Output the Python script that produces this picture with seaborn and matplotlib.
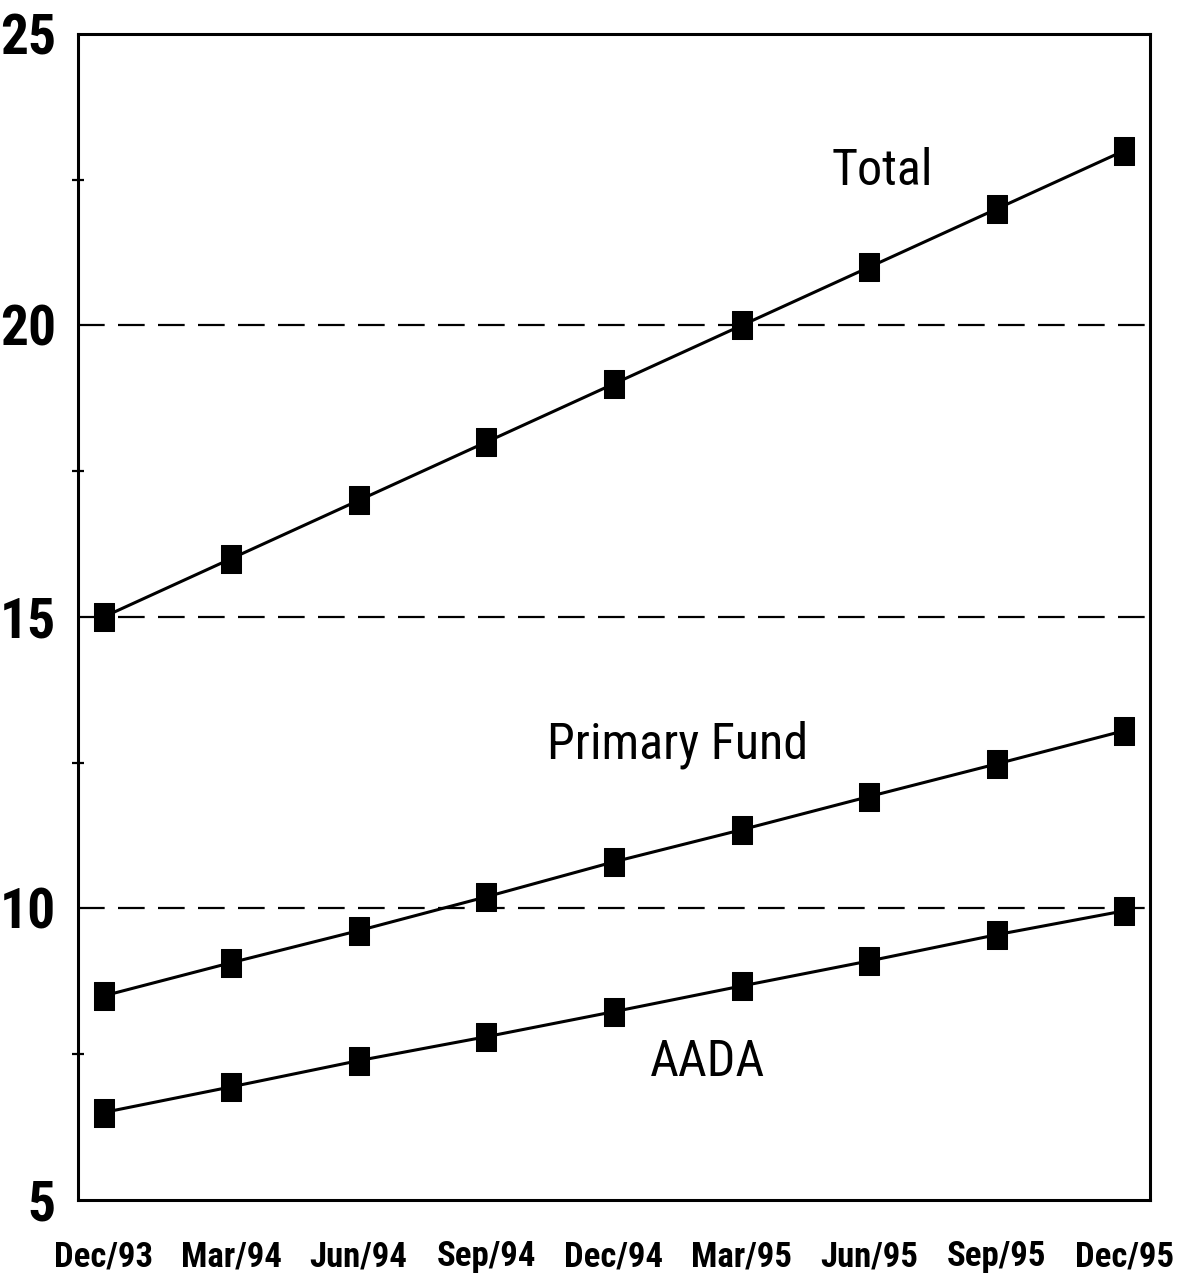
import pandas as pd
import matplotlib.pyplot as plt
import seaborn as sns
from matplotlib.ticker import MultipleLocator

quarters = ['Dec/93', 'Mar/94', 'Jun/94', 'Sep/94', 'Dec/94', 'Mar/95', 'Jun/95', 'Sep/95', 'Dec/95']
total = [15.0, 16.0, 17.0, 18.0, 19.0, 20.0, 21.0, 22.0, 23.0]
primary_fund = [8.5, 9.07, 9.62, 10.2, 10.8, 11.35, 11.92, 12.48, 13.05]
aada = [6.5, 6.94, 7.39, 7.8, 8.23, 8.67, 9.1, 9.55, 9.96]

sns.set_style('white')
plt.rcParams['font.family'] = ['Liberation Sans Narrow', 'DejaVu Sans Condensed',
                               'Roboto Condensed', 'DejaVu Sans']
plt.rcParams['text.color'] = 'black'
plt.rcParams['xtick.color'] = 'black'
plt.rcParams['ytick.color'] = 'black'

df = pd.DataFrame({'quarter': quarters * 3,
                   'value': total + primary_fund + aada,
                   'series': ['Total'] * 9 + ['Primary Fund'] * 9 + ['AADA'] * 9})
df['pos'] = [i for i in range(len(quarters))] * 3

fig = plt.figure(figsize=(11.78, 12.86), dpi=100)
ax = fig.add_axes([0.0662, 0.0669, 0.9100, 0.9067])

# rectangular markers, a bit taller than wide
rect = [(-0.7, -1), (0.7, -1), (0.7, 1), (-0.7, 1), (-0.7, -1)]

for g in [10, 15, 20]:
    ax.axhline(g, color='black', lw=1.6, dashes=(12, 6), zorder=1)

sns.lineplot(data=df, x='pos', y='value', units='series', estimator=None,
             color='black', lw=2.2, marker=rect, markersize=20,
             markeredgecolor='black', markerfacecolor='black', ax=ax, zorder=3)

ax.set_xlim(-0.2, 8.2)
ax.set_ylim(5, 25)
ax.set_xticks(range(len(quarters)))
ax.set_xticklabels(quarters)
ax.yaxis.set_major_locator(MultipleLocator(5))
ax.yaxis.set_minor_locator(MultipleLocator(2.5))
ax.tick_params(axis='x', direction='inout', length=22, width=1.6, labelsize=25, pad=18)
ax.tick_params(axis='y', which='major', direction='out', length=10, width=1.6, labelsize=40, pad=6)
ax.tick_params(axis='y', which='minor', direction='inout', length=8, width=1.6, left=True)
for lab in ax.get_xticklabels() + ax.get_yticklabels():
    lab.set_fontweight('bold')
ax.set_xlabel('')
ax.set_ylabel('')
for s in ax.spines.values():
    s.set_linewidth(2.2)
    s.set_color('black')

ax.text(6.1, 22.65, 'Total', fontsize=36, ha='center', va='center')
ax.text(4.5, 12.8, 'Primary Fund', fontsize=36, ha='center', va='center')
ax.text(4.73, 7.37, 'AADA', fontsize=36, ha='center', va='center')

fig.savefig('out.png', dpi=100)
